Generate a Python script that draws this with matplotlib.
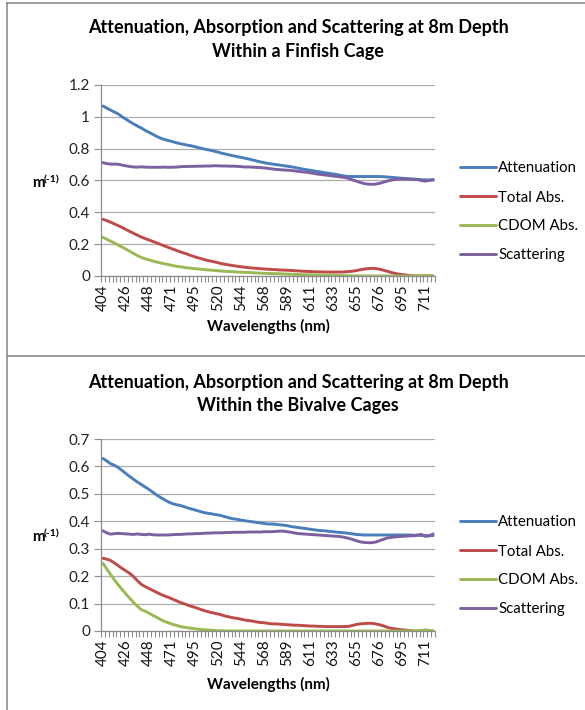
import numpy as np
import matplotlib
matplotlib.use("Agg")
import matplotlib.pyplot as plt
from matplotlib.lines import Line2D

plt.rcParams['font.family'] = ['Lato', 'DejaVu Sans']

wavelengths = [404, 408, 411, 415, 419, 422, 426, 430, 433, 437, 441, 444, 448, 452, 456,
               460, 464, 467, 471, 475, 479, 483, 487, 491, 495, 499, 503, 507, 512, 516,
               520, 524, 528, 532, 536, 540, 544, 548, 552, 556, 560, 564, 568, 571, 575,
               578, 582, 586, 589, 593, 597, 600, 604, 607, 611, 615, 618, 622, 626, 629,
               633, 637, 640, 644, 648, 651, 655, 659, 662, 666, 669, 673, 676, 679, 682,
               686, 689, 692, 695, 698, 700, 703, 706, 708, 711, 714, 716]

series_names = ["Attenuation", "Total Abs.", "CDOM Abs.", "Scattering"]

# --- Finfish cage ---
fin_atten = [1.068, 1.055, 1.042, 1.030, 1.018, 1.000, 0.985, 0.970, 0.955, 0.942,
             0.930, 0.915, 0.903, 0.890, 0.877, 0.866, 0.858, 0.851, 0.845, 0.838,
             0.832, 0.827, 0.822, 0.818, 0.812, 0.806, 0.800, 0.795, 0.790, 0.784,
             0.778, 0.771, 0.766, 0.760, 0.755, 0.750, 0.745, 0.740, 0.735, 0.729,
             0.723, 0.717, 0.712, 0.707, 0.704, 0.700, 0.697, 0.693, 0.690, 0.686,
             0.682, 0.677, 0.672, 0.668, 0.664, 0.660, 0.656, 0.652, 0.648, 0.645,
             0.641, 0.637, 0.632, 0.628, 0.625, 0.625, 0.625, 0.625, 0.625, 0.625,
             0.625, 0.625, 0.625, 0.624, 0.622, 0.620, 0.618, 0.616, 0.614, 0.612,
             0.610, 0.609, 0.607, 0.605, 0.604, 0.603, 0.602]
fin_total = [0.356, 0.348, 0.338, 0.327, 0.316, 0.305, 0.292, 0.280, 0.268, 0.256,
             0.245, 0.235, 0.226, 0.217, 0.208, 0.198, 0.189, 0.180, 0.171, 0.162,
             0.153, 0.145, 0.137, 0.128, 0.120, 0.113, 0.106, 0.099, 0.094, 0.089,
             0.083, 0.077, 0.073, 0.069, 0.065, 0.061, 0.058, 0.055, 0.052, 0.050,
             0.048, 0.046, 0.044, 0.043, 0.041, 0.040, 0.038, 0.037, 0.036, 0.035,
             0.033, 0.032, 0.030, 0.029, 0.028, 0.027, 0.026, 0.026, 0.025, 0.025,
             0.025, 0.025, 0.025, 0.026, 0.028, 0.030, 0.034, 0.039, 0.043, 0.046,
             0.048, 0.047, 0.043, 0.037, 0.030, 0.023, 0.017, 0.012, 0.009, 0.006,
             0.003, 0.001, 0.000, 0.000, 0.000, 0.000, 0.000]
fin_cdom = [0.243, 0.231, 0.219, 0.207, 0.194, 0.181, 0.169, 0.155, 0.141, 0.128,
            0.117, 0.108, 0.101, 0.094, 0.088, 0.082, 0.077, 0.072, 0.067, 0.062,
            0.058, 0.055, 0.051, 0.049, 0.046, 0.044, 0.041, 0.039, 0.037, 0.035,
            0.033, 0.031, 0.029, 0.028, 0.027, 0.025, 0.024, 0.023, 0.022, 0.021,
            0.019, 0.018, 0.017, 0.016, 0.015, 0.015, 0.014, 0.013, 0.012, 0.011,
            0.010, 0.009, 0.008, 0.008, 0.007, 0.007, 0.006, 0.006, 0.005, 0.004,
            0.004, 0.003, 0.003, 0.002, 0.002, 0.001, 0.001, 0.000, 0.000, 0.000,
            0.000, 0.000, 0.000, 0.000, 0.000, 0.000, 0.000, 0.000, 0.000, 0.000,
            0.000, 0.000, 0.000, 0.002, 0.004, 0.003, 0.000]
fin_scatter = [0.712, 0.706, 0.703, 0.703, 0.702, 0.697, 0.692, 0.688, 0.685, 0.684,
               0.686, 0.684, 0.683, 0.683, 0.683, 0.683, 0.684, 0.683, 0.683, 0.684,
               0.686, 0.688, 0.688, 0.689, 0.689, 0.690, 0.690, 0.691, 0.691, 0.693,
               0.692, 0.691, 0.691, 0.690, 0.690, 0.689, 0.687, 0.685, 0.685, 0.684,
               0.682, 0.681, 0.679, 0.676, 0.673, 0.670, 0.668, 0.666, 0.665, 0.663,
               0.660, 0.657, 0.654, 0.652, 0.648, 0.644, 0.640, 0.637, 0.634, 0.631,
               0.628, 0.625, 0.622, 0.619, 0.613, 0.604, 0.596, 0.588, 0.581, 0.577,
               0.576, 0.577, 0.582, 0.589, 0.596, 0.602, 0.606, 0.608, 0.609, 0.609,
               0.608, 0.607, 0.606, 0.599, 0.596, 0.601, 0.607]

# --- Bivalve cages ---
biv_atten = [0.629, 0.620, 0.610, 0.604, 0.596, 0.585, 0.574, 0.563, 0.553, 0.543,
             0.534, 0.525, 0.516, 0.506, 0.496, 0.487, 0.479, 0.471, 0.465, 0.461,
             0.458, 0.454, 0.449, 0.445, 0.441, 0.437, 0.433, 0.430, 0.428, 0.425,
             0.423, 0.420, 0.416, 0.412, 0.409, 0.407, 0.404, 0.402, 0.400, 0.398,
             0.396, 0.394, 0.392, 0.390, 0.390, 0.389, 0.387, 0.386, 0.384, 0.381,
             0.379, 0.377, 0.375, 0.373, 0.371, 0.369, 0.367, 0.366, 0.365, 0.363,
             0.362, 0.360, 0.359, 0.358, 0.356, 0.354, 0.352, 0.351, 0.350, 0.350,
             0.350, 0.350, 0.350, 0.350, 0.350, 0.350, 0.350, 0.350, 0.350, 0.350,
             0.350, 0.349, 0.349, 0.348, 0.348, 0.348, 0.348]
biv_total = [0.265, 0.262, 0.257, 0.248, 0.238, 0.228, 0.219, 0.210, 0.198, 0.183,
             0.170, 0.162, 0.155, 0.148, 0.141, 0.134, 0.128, 0.123, 0.117, 0.111,
             0.105, 0.100, 0.095, 0.090, 0.086, 0.081, 0.076, 0.072, 0.068, 0.065,
             0.062, 0.058, 0.054, 0.051, 0.048, 0.046, 0.043, 0.040, 0.038, 0.036,
             0.033, 0.031, 0.030, 0.028, 0.026, 0.026, 0.025, 0.024, 0.023, 0.022,
             0.021, 0.021, 0.020, 0.019, 0.018, 0.018, 0.017, 0.017, 0.016, 0.016,
             0.016, 0.016, 0.016, 0.016, 0.017, 0.020, 0.024, 0.026, 0.027, 0.028,
             0.028, 0.026, 0.023, 0.019, 0.014, 0.010, 0.008, 0.006, 0.004, 0.003,
             0.001, 0.000, 0.000, 0.000, 0.001, 0.000, 0.000]
biv_cdom = [0.247, 0.226, 0.206, 0.186, 0.168, 0.151, 0.135, 0.119, 0.104, 0.090,
            0.078, 0.072, 0.065, 0.057, 0.050, 0.042, 0.035, 0.030, 0.025, 0.021,
            0.017, 0.014, 0.012, 0.010, 0.008, 0.006, 0.005, 0.004, 0.003, 0.002,
            0.001, 0.001, 0.000, 0.000, 0.000, 0.000, 0.000, 0.000, 0.000, 0.000,
            0.000, 0.000, 0.000, 0.000, 0.000, 0.000, 0.000, 0.000, 0.000, 0.000,
            0.000, 0.000, 0.000, 0.000, 0.000, 0.000, 0.000, 0.000, 0.000, 0.000,
            0.000, 0.000, 0.000, 0.000, 0.000, 0.000, 0.000, 0.000, 0.000, 0.000,
            0.000, 0.000, 0.000, 0.000, 0.000, 0.000, 0.000, 0.000, 0.000, 0.000,
            0.000, 0.000, 0.000, 0.002, 0.004, 0.002, 0.000]
biv_scatter = [0.365, 0.358, 0.353, 0.355, 0.356, 0.355, 0.354, 0.353, 0.352, 0.354,
               0.352, 0.351, 0.353, 0.351, 0.350, 0.350, 0.350, 0.350, 0.351, 0.352,
               0.352, 0.353, 0.354, 0.354, 0.355, 0.355, 0.356, 0.357, 0.357, 0.358,
               0.358, 0.358, 0.359, 0.359, 0.360, 0.360, 0.360, 0.360, 0.361, 0.361,
               0.361, 0.361, 0.362, 0.362, 0.362, 0.363, 0.364, 0.364, 0.362, 0.360,
               0.357, 0.355, 0.354, 0.353, 0.352, 0.351, 0.350, 0.349, 0.348, 0.347,
               0.346, 0.345, 0.344, 0.341, 0.338, 0.334, 0.329, 0.325, 0.323, 0.322,
               0.322, 0.324, 0.329, 0.334, 0.339, 0.341, 0.343, 0.344, 0.345, 0.346,
               0.347, 0.347, 0.350, 0.352, 0.345, 0.347, 0.354]

titles = [("Attenuation, Absorption and Scattering at 8m Depth", "Within a Finfish Cage"),
          ("Attenuation, Absorption and Scattering at 8m Depth", "Within the Bivalve Cages")]
y_ticks_top = [0, 0.2, 0.4, 0.6, 0.8, 1.0, 1.2]
y_labels_top = ["0", "0.2", "0.4", "0.6", "0.8", "1", "1.2"]
y_ticks_bot = [0, 0.1, 0.2, 0.3, 0.4, 0.5, 0.6, 0.7]
y_labels_bot = ["0", "0.1", "0.2", "0.3", "0.4", "0.5", "0.6", "0.7"]

colors = ['#4A7EBB', '#BE4B48', '#98B954', '#7D60A0']

W, H = 585, 710
fig = plt.figure(figsize=(W / 100, H / 100), dpi=100)


def fx(px):
    return px / W


def fy(py):
    return 1 - py / H


# panel borders
border_c = '#8E8E8E'
fig.add_artist(Line2D([fx(7), fx(585)], [fy(3), fy(3)], color=border_c, lw=1.2))
fig.add_artist(Line2D([fx(7), fx(7)], [fy(3), fy(710)], color=border_c, lw=1.2))
fig.add_artist(Line2D([fx(7), fx(585)], [fy(356), fy(356)], color=border_c, lw=1.2))

panels = [
    dict(top=85, bottom=276, data=[fin_atten, fin_total, fin_cdom, fin_scatter],
         yt=y_ticks_top, yl=y_labels_top, ymax=1.2, title=titles[0], ty=(28, 51),
         ylab_y=187, xlab_y=326, leg_y=212),
    dict(top=439, bottom=631, data=[biv_atten, biv_total, biv_cdom, biv_scatter],
         yt=y_ticks_bot, yl=y_labels_bot, ymax=0.7, title=titles[1], ty=(383, 406),
         ylab_y=541, xlab_y=684, leg_y=566),
]

n = len(wavelengths)
x = np.arange(n)
grid_c = '#ADADAD'
axis_c = '#8C8C8C'

for p in panels:
    left, right = 101, 435
    ax = fig.add_axes([fx(left), fy(p['bottom']), (right - left) / W, (p['bottom'] - p['top']) / H])
    handles = []
    for vals, c, name in zip(p['data'], colors, series_names):
        h, = ax.plot(x, vals, color=c, lw=2.1, solid_capstyle='round', label=name)
        handles.append(h)
    ax.set_xlim(-0.5, n - 0.5)
    ax.set_ylim(0, p['ymax'])
    ax.set_yticks(p['yt'])
    ax.set_yticklabels(p['yl'])
    ax.set_xticks(x[::6])
    ax.set_xticklabels([str(w) for w in wavelengths[::6]], rotation=90)
    ax.set_xticks(np.arange(-0.5, n, 1.0), minor=True)
    ax.tick_params(axis='x', which='major', length=0, pad=6, labelsize=11, colors='#111111')
    ax.tick_params(axis='x', which='minor', length=4, width=0.8, color=axis_c, direction='out')
    ax.tick_params(axis='y', which='major', length=5, width=0.8, color=axis_c, pad=3,
                   labelsize=11, labelcolor='#222222')
    ax.yaxis.grid(True, color=grid_c, lw=0.9)
    ax.set_axisbelow(True)
    for s in ['top', 'right']:
        ax.spines[s].set_visible(False)
    for s in ['left', 'bottom']:
        ax.spines[s].set_color(axis_c)
        ax.spines[s].set_linewidth(0.9)

    fig.text(fx(298), fy(p['ty'][0]), p['title'][0], ha='center', va='center',
             fontsize=13.0, fontweight='bold')
    fig.text(fx(298), fy(p['ty'][1]), p['title'][1], ha='center', va='center',
             fontsize=13.0, fontweight='bold')
    fig.text(fx(268), fy(p['xlab_y']), "Wavelengths (nm)", ha='center', va='center',
             fontsize=11, fontweight='bold')
    fig.text(fx(32), fy(p['ylab_y']), "m", ha='left', va='baseline',
             fontsize=11, fontweight='bold')
    fig.text(fx(44), fy(p['ylab_y'] - 5), "(-1)", ha='left', va='baseline',
             fontsize=7.5, fontweight='bold')

    fig.legend(handles=handles, labels=series_names, loc='center left',
               bbox_to_anchor=(fx(460), fy(p['leg_y'])), frameon=False,
               fontsize=10.8, handlelength=2.4, handletextpad=0.15,
               labelspacing=1.0, borderpad=0, borderaxespad=0)

fig.savefig("out.png", dpi=100)
